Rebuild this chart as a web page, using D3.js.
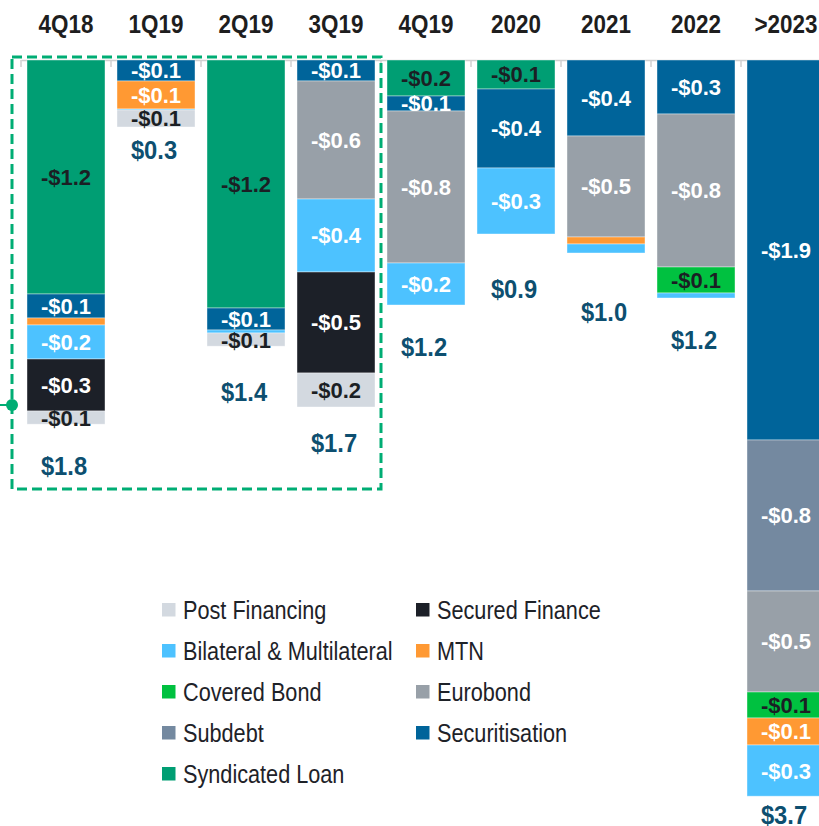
<!DOCTYPE html>
<html>
<head>
<meta charset="utf-8">
<script src="https://cdn.jsdelivr.net/npm/d3@7"></script>
<style>
  body { margin: 0; background: #fff; }
  svg { display: block; }
  text { font-family: "Liberation Sans", Arial, sans-serif; }
</style>
</head>
<body>
<svg id="chart"></svg>
<script>
// maturity profile, $bn (stack order top -> bottom)
var categories = ["4Q18", "1Q19", "2Q19", "3Q19", "4Q19", "2020", "2021", "2022", ">2023"];

var syndicatedLoan = [1.17, 0, 1.24, 0, 0.18, 0.145, 0, 0, 0];
var securitisation = [0.12, 0.105, 0.11, 0.105, 0.075, 0.395, 0.38, 0.27, 1.9];
var subdebt        = [0, 0, 0, 0, 0, 0, 0, 0, 0.755];
var eurobond       = [0, 0, 0, 0.59, 0.76, 0, 0.505, 0.765, 0.505];
var coveredBond    = [0, 0, 0, 0, 0, 0, 0, 0.13, 0.13];
var mtn            = [0.035, 0.14, 0, 0, 0, 0, 0.035, 0, 0.135];
var bilateral      = [0.17, 0.005, 0.015, 0.365, 0.21, 0.33, 0.045, 0.025, 0.256];
var securedFinance = [0.26, 0, 0, 0.505, 0, 0, 0, 0, 0];
var postFinancing  = [0.066, 0.085, 0.066, 0.17, 0, 0, 0, 0, 0];

var seriesNames = ["Syndicated Loan", "Securitisation", "Subdebt", "Eurobond", "Covered Bond",
  "MTN", "Bilateral & Multilateral", "Secured Finance", "Post Financing"];
var seriesValues = [syndicatedLoan, securitisation, subdebt, eurobond, coveredBond,
  mtn, bilateral, securedFinance, postFinancing];

var legendCol1 = ["Post Financing", "Bilateral & Multilateral", "Covered Bond", "Subdebt", "Syndicated Loan"];
var legendCol2 = ["Secured Finance", "MTN", "Eurobond", "Securitisation"];

var colors = {
  "Syndicated Loan": "#009e73",
  "Securitisation": "#00649a",
  "Subdebt": "#7489a0",
  "Eurobond": "#98a0a8",
  "Covered Bond": "#00c140",
  "MTN": "#ff9933",
  "Bilateral & Multilateral": "#4dc2ff",
  "Secured Finance": "#1c2028",
  "Post Financing": "#d3d9e0"
};
var darkText = ["Syndicated Loan", "Covered Bond", "Post Financing"];

// layout tweak: gap between bar bottom and total label
var totalGap = [42, 23, 46, 36, 42, 55, 59, 42, 19];

var width = 819, height = 826;
var top0 = 60;

var svg = d3.select("#chart").attr("width", width).attr("height", height);

var x = d3.scaleBand().domain(categories).range([21, 831])
  .paddingInner(12 / 90).paddingOuter(6 / 90);
var y = d3.scaleLinear().domain([0, 4]).range([top0, top0 + 800]);

// stacked rows
var rows = categories.map(function (c, i) {
  var r = { cat: c };
  seriesNames.forEach(function (s, k) { r[s] = seriesValues[k][i]; });
  return r;
});
var stack = d3.stack().keys(seriesNames)(rows);

// axis line with category labels
var axis = svg.append("g")
  .attr("transform", "translate(0," + top0 + ")")
  .call(d3.axisTop(x).tickSize(0).tickPadding(24));
axis.select(".domain").attr("stroke", "#d0d0d0").attr("stroke-width", 1.5);
axis.selectAll("text")
  .style("font-size", "25.5px")
  .style("font-weight", "bold")
  .style("fill", "#1e1e1e")
  .attr("dy", "0.35em")
  .attr("y", -36)
  .attr("transform", "scale(0.88,1)");

// boundary ticks
var edges = categories.map(function (c) { return x(c) - 6; });
edges.push(x(categories[categories.length - 1]) + x.bandwidth() + 6);
svg.append("g").selectAll("line").data(edges).enter().append("line")
  .attr("x1", function (d) { return d; })
  .attr("x2", function (d) { return d; })
  .attr("y1", top0)
  .attr("y2", top0 + 7)
  .attr("stroke", "#d0d0d0")
  .attr("stroke-width", 1.5);

// bars
var layers = svg.append("g").selectAll("g").data(stack).enter().append("g")
  .attr("fill", function (d) { return colors[d.key]; });

layers.selectAll("rect")
  .data(function (d) { return d; })
  .enter()
  .append("rect")
  .attr("x", function (d) { return x(d.data.cat); })
  .attr("y", function (d) { return y(d[0]); })
  .attr("width", x.bandwidth())
  .attr("height", function (d) { return y(d[1]) - y(d[0]); })
  .attr("stroke", "#ffffff")
  .attr("stroke-opacity", 0.5)
  .attr("stroke-width", function (d) { return d[1] - d[0] > 0 ? 0.8 : 0; });

// segment labels
layers.each(function (layer) {
  var dark = darkText.indexOf(layer.key) >= 0;
  d3.select(this).selectAll("text")
    .data(layer.filter(function (d) { return d[1] - d[0] >= 0.06; }))
    .enter()
    .append("text")
    .attr("x", function (d) { return x(d.data.cat) + x.bandwidth() / 2; })
    .attr("y", function (d) { return (y(d[0]) + y(d[1])) / 2; })
    .attr("dy", "0.36em")
    .attr("text-anchor", "middle")
    .style("font-size", "22px")
    .style("font-weight", "bold")
    .style("fill", dark ? "#1b1f24" : "#ffffff")
    .text(function (d) { return "-$" + d3.format(".1f")(d[1] - d[0]); });
});

// totals
var totals = rows.map(function (r) {
  return d3.sum(seriesNames, function (s) { return r[s]; });
});
svg.append("g").selectAll("text").data(categories).enter().append("text")
  .attr("transform", function (d, i) {
    return "translate(" + (x(d) + x.bandwidth() / 2 - 2) + "," + (y(totals[i]) + totalGap[i]) + ") scale(0.95,1)";
  })
  .attr("dy", "0.36em")
  .attr("text-anchor", "middle")
  .style("font-size", "25px")
  .style("font-weight", "bold")
  .style("fill", "#0d4f70")
  .text(function (d, i) { return "$" + d3.format(".1f")(totals[i]); });

// highlight box around actual period
var boxL = x(categories[0]) - 15, boxR = x(categories[3]) + x.bandwidth() + 6;
svg.append("rect")
  .attr("x", boxL)
  .attr("y", 57)
  .attr("width", boxR - boxL)
  .attr("height", 432)
  .attr("fill", "none")
  .attr("stroke", "#00ad74")
  .attr("stroke-width", 3)
  .attr("stroke-dasharray", "10,5");
svg.append("line")
  .attr("x1", 0).attr("x2", boxL)
  .attr("y1", 405).attr("y2", 405)
  .attr("stroke", "#00ad74").attr("stroke-width", 2);
svg.append("circle")
  .attr("cx", boxL).attr("cy", 405).attr("r", 6)
  .attr("fill", "#00ad74");

// legend
function drawLegend(items, lx) {
  var g = svg.append("g").selectAll("g").data(items).enter().append("g")
    .attr("transform", function (d, i) { return "translate(" + lx + "," + (610 + i * 41) + ")"; });
  g.append("rect")
    .attr("x", 0).attr("y", -7)
    .attr("width", 13.5).attr("height", 13.5)
    .attr("fill", function (d) { return colors[d]; });
  g.append("text")
    .attr("transform", "translate(21,0) scale(0.85,1)")
    .attr("dy", "0.36em")
    .style("font-size", "25.5px")
    .style("fill", "#1e2228")
    .text(function (d) { return d; });
}
drawLegend(legendCol1, 162);
drawLegend(legendCol2, 416);
</script>
</body>
</html>
